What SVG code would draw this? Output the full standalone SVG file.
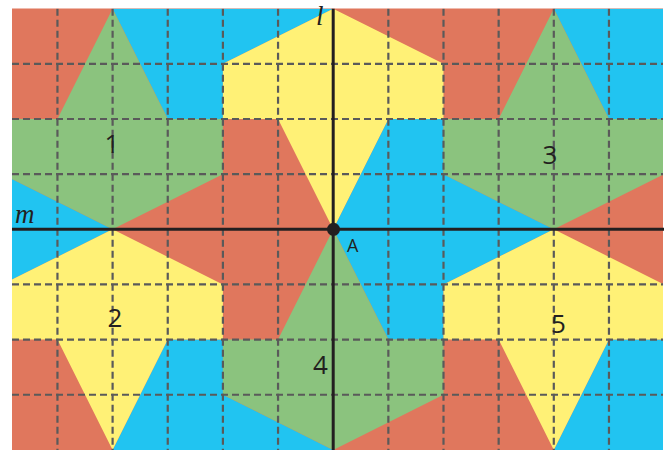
<svg xmlns="http://www.w3.org/2000/svg" width="672" height="450" viewBox="0 0 672 450">
<style>
.r{fill:#E0775D}.b{fill:#21C4F1}.g{fill:#8BC37E}.y{fill:#FFF176}
.grid{stroke:#5a5a5a;stroke-width:2.2;stroke-dasharray:7 4;fill:none}
.axis{stroke:#231f20;stroke-width:3;fill:none}
.num{font-family:"Open Sans","DejaVu Sans",sans-serif;font-size:26px;fill:#231f20;text-anchor:middle}
.lbl{font-family:"Open Sans","DejaVu Sans",sans-serif;font-size:18px;fill:#231f20}
.ax{font-family:"Liberation Serif",serif;font-style:italic;font-size:27px;fill:#231f20}
</style>
<defs>
<clipPath id="cp"><rect x="12" y="8.5" width="651" height="442"/></clipPath>
</defs>
<g clip-path="url(#cp)">
<g id="tiles" transform="translate(333.2 229.3) scale(55.15)">
<rect class="r" x="-7" y="-5" width="14" height="10"/>
<g id="blue-regions">
<polygon class="b" points="-4,-4 0,-4 -2,-3 -2,-2 -3,-2"/>
<polygon class="b" points="4,-4 7,-4 7,-2 5,-2"/>
<polygon class="b" points="-7,-1.5 -6,-1 -4,0 -6,1 -7,1.5"/>
<polygon class="b" points="1,-2 2,-2 2,-1 4,0 2,1 2,2 1,2 0,0"/>
<polygon class="b" points="-3,2 -2,2 -2,3 0,4 0,4.2 -4,4.2 -4,4"/>
<polygon class="b" points="5,2 7,2 7,4.2 4,4.2 4,4"/>
</g>
<g id="shape-1"><polygon class="g" points="-4,-4 -3,-2 -2,-2 -2,-1 -4,0 -6,-1 -7,-1 -7,-2 -6,-2 -5,-2"/></g>
<g id="shape-3"><polygon class="g" points="4,-4 5,-2 7,-2 7,-1 6,-1 4,0 2,-1 2,-2 3,-2"/></g>
<g id="shape-4"><polygon class="g" points="0,0 1,2 2,2 2,3 0,4 -2,3 -2,2 -1,2"/></g>
<g id="shape-top"><polygon class="y" points="0,-4 2,-3 2,-2 1,-2 0,0 -1,-2 -2,-2 -2,-3"/></g>
<g id="shape-2"><polygon class="y" points="-4,0 -2,1 -2,2 -3,2 -4,4 -5,2 -7,2 -7,1 -6,1"/></g>
<g id="shape-5"><polygon class="y" points="4,0 6,1 7,1 7,2 5,2 4,4 3,2 2,2 2,1"/></g>
</g>
<g id="grid" class="grid">
<path d="M57.45 8.7V450M112.6 8.7V450M167.75 8.7V450M222.9 8.7V450M278.05 8.7V450M388.35 8.7V450M443.5 8.7V450M498.65 8.7V450M553.8 8.7V450M608.95 8.7V450"/>
<path d="M12 63.85H663M12 119H663M12 174.15H663M12 284.45H663M12 339.6H663M12 394.75H663"/>
</g>
</g>
<g id="connectors">
<line id="axis-m" class="axis" x1="12" y1="229.3" x2="664" y2="229.3"/>
<line id="axis-l" class="axis" x1="333.2" y1="8.7" x2="333.2" y2="450"/>
</g>
<g id="point-A">
<circle cx="333.5" cy="229.3" r="6.5" fill="#231f20"/>
<text class="lbl" x="347" y="252">A</text>
</g>
<g id="labels">
<text class="num" x="112" y="153">1</text>
<text class="num" x="115" y="327">2</text>
<text class="num" x="550" y="164">3</text>
<text class="num" x="320.5" y="374">4</text>
<text class="num" x="558.5" y="333">5</text>
<text class="ax" x="15" y="223">m</text>
<text class="ax" x="316" y="25">l</text>
</g>
</svg>
